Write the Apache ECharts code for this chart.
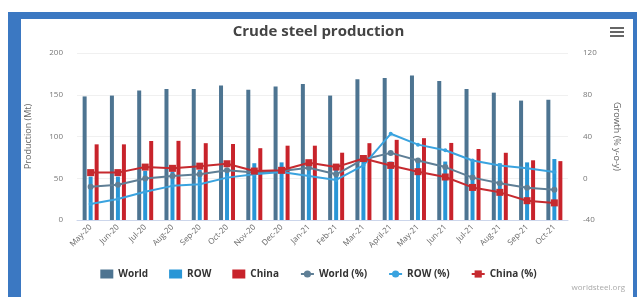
<!DOCTYPE html>
<html><head><meta charset="utf-8">
<script src="https://cdn.jsdelivr.net/npm/echarts@6/dist/echarts.min.js"></script>
<style>
html,body{margin:0;padding:0;background:#fff;width:637px;height:297px;overflow:hidden;}
#frame{position:absolute;left:8px;top:12px;width:629px;height:290px;background:#3b78c2;}
#inner{position:absolute;left:21px;top:19px;width:612px;height:290px;background:#fff;}
#chart{position:absolute;left:0;top:0;width:637px;height:297px;}
</style></head>
<body>
<div id="frame"></div><div id="inner"></div>
<div id="chart"></div>
<script>
const categories = ['May-20','Jun-20','Jul-20','Aug-20','Sep-20','Oct-20','Nov-20','Dec-20','Jan-21','Feb-21','Mar-21','April-21','May-21','Jun-21','Jul-21','Aug-21','Sep-21','Oct-21'];
const worldMt = [148,149,155,157,157,161,156,160,163,149,168.5,170,173,166.5,157,152.5,143,144];
const rowMt   = [52,52,59,58,60,62,68,69,63,62,70,70,70,70,72,68,69,73];
const chinaMt = [90.6,90.6,94.6,94.8,92,91,86,89,89,80.6,92,96,98,92.3,85,80.5,71.5,70.5];
const worldPct = [-8.2,-6.3,-0.3,2.2,3.8,7.6,5.4,6.9,10,3.8,18,24.3,17,10.7,0.6,-4.7,-9.2,-11];
const rowPct   = [-24.6,-19.9,-13,-7.3,-5.7,0.6,3.8,6,2.2,-1.6,12.3,42.6,32.2,26.8,17,12.3,9.5,6];
const chinaPct = [5.4,5.4,10.7,9.5,11.6,13.9,6.9,7.6,14.9,10.7,18.9,12.3,6.3,1.2,-8.8,-13.5,-21.5,-23.6];
const leftTicks = {min:0,max:200,interval:50};
const rightTicks = {min:-40,max:120,interval:40};

const cWorld='#4d7491', cRow='#2996d6', cChina='#c8232b';
const cWorldL='#5f7f96', cRowL='#3aa3df', cChinaL='#c62a2f';
const chart = echarts.init(document.getElementById('chart'), null, {renderer:'canvas'});
const barCommon = {type:'bar', yAxisIndex:0, barWidth:4, barGap:'50%'};
chart.setOption({
  backgroundColor:'transparent',
  animation:false,
  title:{text:'Crude steel production', left:'center', top:19, textStyle:{fontSize:15, fontWeight:'bold', color:'#444', fontFamily:'Open Sans'}},
  grid:{left:77, right:69, top:53, bottom:77},
  legend:{bottom:13, left:'center', itemWidth:13, itemHeight:9, itemGap:21,
    textStyle:{fontSize:10, fontWeight:'bold', color:'#333', fontFamily:'Open Sans'},
    data:[{name:'World',icon:'rect'},{name:'ROW',icon:'rect'},{name:'China',icon:'rect'},'World (%)','ROW (%)','China (%)']},
  xAxis:{type:'category', data:categories,
    axisLine:{lineStyle:{color:'#ccd6eb'}}, axisTick:{lineStyle:{color:'#ccd6eb'}, length:5},
    axisLabel:{rotate:45, interval:0, fontSize:8, color:'#666', margin:6, fontFamily:'Open Sans'}},
  yAxis:[
    {type:'value', min:leftTicks.min, max:leftTicks.max, interval:leftTicks.interval,
     name:'Production (Mt)', nameLocation:'middle', nameGap:44, nameTextStyle:{fontSize:9, color:'#666', fontFamily:'Open Sans'},
     axisLabel:{fontSize:8, color:'#777', margin:14, fontFamily:'Open Sans'},
     splitLine:{lineStyle:{color:'#f0f0f0'}}, axisLine:{show:false}, axisTick:{show:false}},
    {type:'value', position:'right', min:rightTicks.min, max:rightTicks.max, interval:rightTicks.interval,
     name:'Growth (% y-o-y)', nameLocation:'middle', nameRotate:-90, nameGap:44, nameTextStyle:{fontSize:9, color:'#666', fontFamily:'Open Sans'},
     axisLabel:{fontSize:8, color:'#777', margin:15, fontFamily:'Open Sans'},
     splitLine:{show:false}, axisLine:{show:false}, axisTick:{show:false}}
  ],
  series:[
    Object.assign({name:'World', data:worldMt, itemStyle:{color:cWorld}}, barCommon),
    Object.assign({name:'ROW', data:rowMt, itemStyle:{color:cRow}}, barCommon),
    Object.assign({name:'China', data:chinaMt, itemStyle:{color:cChina}}, barCommon),
    {name:'World (%)', type:'line', yAxisIndex:1, z:5, data:worldPct, symbol:'circle', symbolSize:6, itemStyle:{color:cWorldL}, lineStyle:{width:2,color:cWorldL}},
    {name:'ROW (%)', type:'line', yAxisIndex:1, z:5, data:rowPct, symbol:'circle', symbolSize:4, itemStyle:{color:cRowL}, lineStyle:{width:2,color:cRowL}},
    {name:'China (%)', type:'line', yAxisIndex:1, z:5, data:chinaPct, symbol:'rect', symbolSize:7, itemStyle:{color:cChinaL}, lineStyle:{width:2,color:cChinaL}}
  ],
  graphic:[
    {type:'group', right:13, top:27, children:[
      {type:'rect', shape:{x:0,y:0,width:14,height:2}, style:{fill:'#666'}},
      {type:'rect', shape:{x:0,y:4,width:14,height:2}, style:{fill:'#666'}},
      {type:'rect', shape:{x:0,y:8,width:14,height:2}, style:{fill:'#666'}}
    ]},
    {type:'text', right:12, bottom:5, style:{text:'worldsteel.org', fontSize:8, fill:'#aaa', fontFamily:'Open Sans'}}
  ]
});
</script>
</body></html>
